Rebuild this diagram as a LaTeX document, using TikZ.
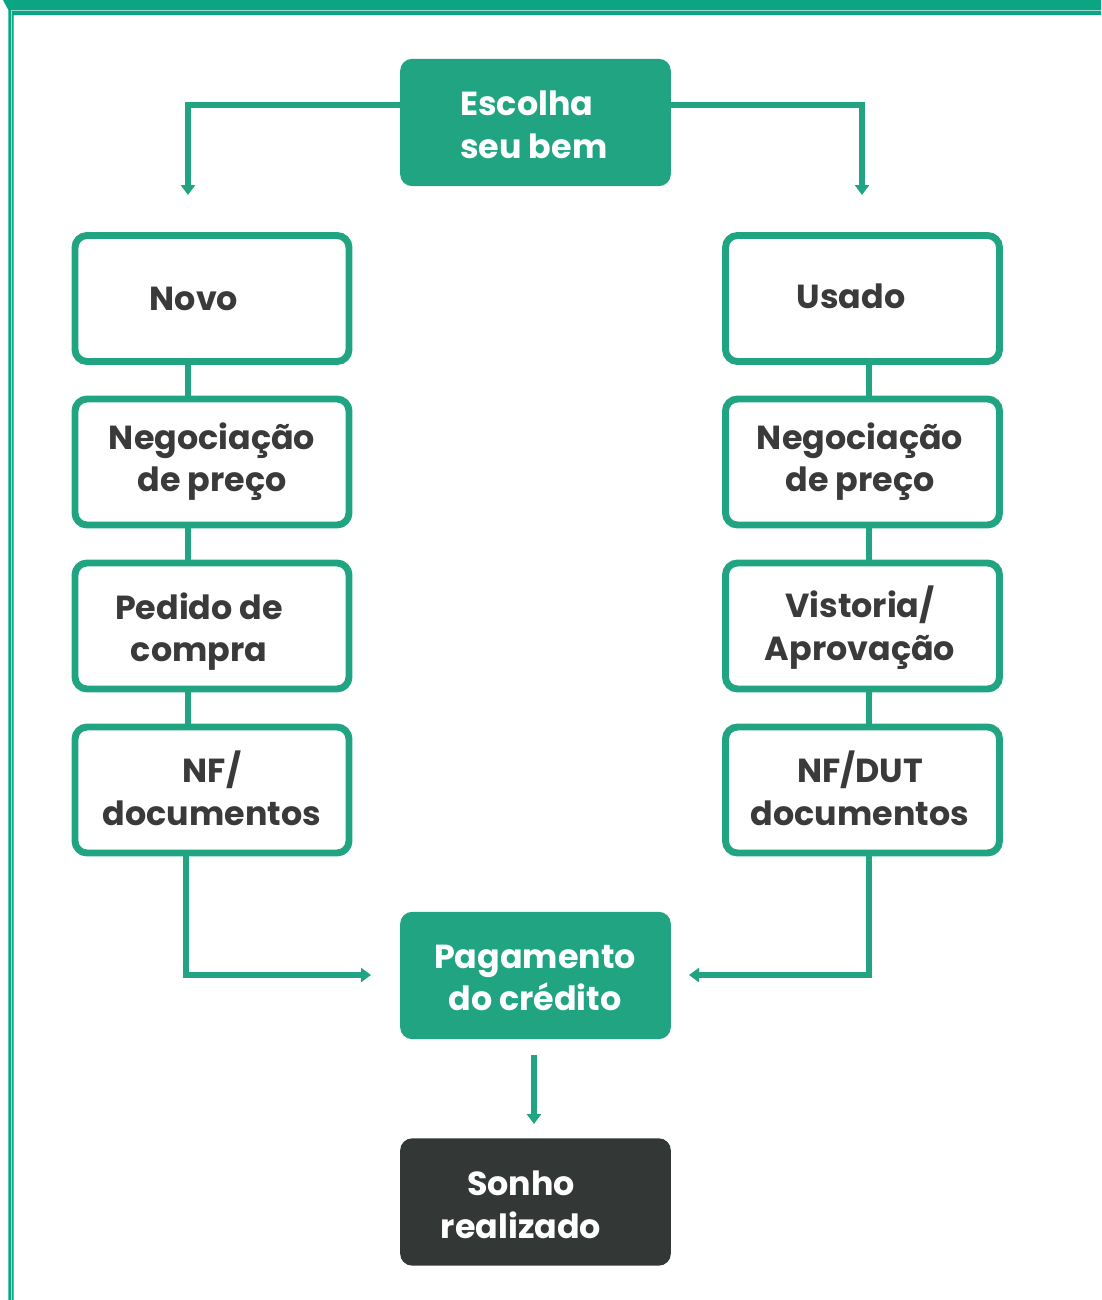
\documentclass[tikz,border=0pt]{standalone}
\usepackage{fontspec}
\setmainfont{Poppins}
\usetikzlibrary{arrows.meta}
\definecolor{frameg}{HTML}{0BA584}
\definecolor{boxg}{HTML}{20A482}
\definecolor{darkbox}{HTML}{333837}
\definecolor{txt}{HTML}{3A3A3A}
\begin{document}
\begin{tikzpicture}[x=0.75pt,y=-0.75pt,
  outbox/.style={draw=boxg,line width=5.2pt,rounded corners=9pt,fill=white,minimum width=205.5pt,minimum height=94.5pt,inner sep=0pt},
  fillbox/.style={fill=#1,rounded corners=9pt,minimum width=203pt,minimum height=95.5pt,inner sep=0pt},
  lab/.style={font=\fontsize{25}{32}\selectfont\bfseries,text=txt,align=center,inner sep=0pt},
  wlab/.style={lab,text=white},
  conn/.style={draw=boxg,line width=3.8pt},
  arr/.style={conn,-{Triangle[width=10.5pt,length=7.5pt]}}
]
\useasboundingbox (0,0) rectangle (1101,1300);
% frame
\fill[frameg] (3,0) -- (1101,0) -- (1101,15) -- (13.5,15) -- (13.5,1300) -- (8.3,1300) -- (8.3,10) -- cycle;
\draw[white!60!frameg,line width=0.7pt] (11,1300) -- (11,10.5) -- (1101,10.5);
% boxes
\node[fillbox=boxg] (esc) at (535.5,122.5) {};
\node[outbox] (novo) at (212,298.5) {};
\node[outbox] (negl) at (212,462) {};
\node[outbox] (ped) at (212,626) {};
\node[outbox] (nfl) at (212,790) {};
\node[outbox] (usado) at (862.5,298.5) {};
\node[outbox] (negr) at (862.5,462) {};
\node[outbox] (vist) at (862.5,626) {};
\node[outbox] (nfr) at (862.5,790) {};
\node[fillbox=boxg] (pag) at (535.5,975.5) {};
\node[fillbox=darkbox] (sonho) at (535.5,1202) {};
% labels
\node[wlab,align=left,anchor=west] (tesc) at (460,124.5) {Escolha\\seu bem};
\node[lab] (tnovo) at (194,299) {Novo};
\node[lab] (tnegl) at (212,461.5) {Negociação\\de preço};
\node[lab] (tped) at (199,631.5) {Pedido de\\compra};
\node[lab] (tnfl) at (212,788.5) {NF/\\documentos};
\node[lab] (tusado) at (851,296) {Usado};
\node[lab] (tnegr) at (860,461.5) {Negociação\\de preço};
\node[lab] (tvist) at (860,628) {Vistoria/\\Aprovação};
\node[lab] (tnfr) at (860,788.5) {NF/DUT\\documentos};
\node[wlab] (tpag) at (535,978) {Pagamento\\do crédito};
\node[wlab] (tsonho) at (521,1205) {Sonho\\realizado};
% connectors
\coordinate (escL) at (esc.west |- 0,105);
\coordinate (escR) at (esc.east |- 0,105);
\coordinate (aL) at (188,195);
\coordinate (aR) at (862,195);
\draw[arr] (escL) -| (aL);
\draw[arr] (escR) -| (aR);
\draw[conn] (novo.south -| 188,0) -- (negl.north -| 188,0);
\draw[conn] (negl.south -| 188,0) -- (ped.north -| 188,0);
\draw[conn] (ped.south -| 188,0) -- (nfl.north -| 188,0);
\draw[conn] (usado.south -| 869,0) -- (negr.north -| 869,0);
\draw[conn] (negr.south -| 869,0) -- (vist.north -| 869,0);
\draw[conn] (vist.south -| 869,0) -- (nfr.north -| 869,0);
\coordinate (pL) at (371,975);
\coordinate (pR) at (689,975);
\draw[arr] (nfl.south -| 186,0) |- (pL);
\draw[arr] (nfr.south -| 869,0) |- (pR);
\coordinate (dTop) at (534,1055);
\coordinate (dBot) at (534,1124);
\draw[arr] (dTop) -- (dBot);
\end{tikzpicture}
\end{document}
